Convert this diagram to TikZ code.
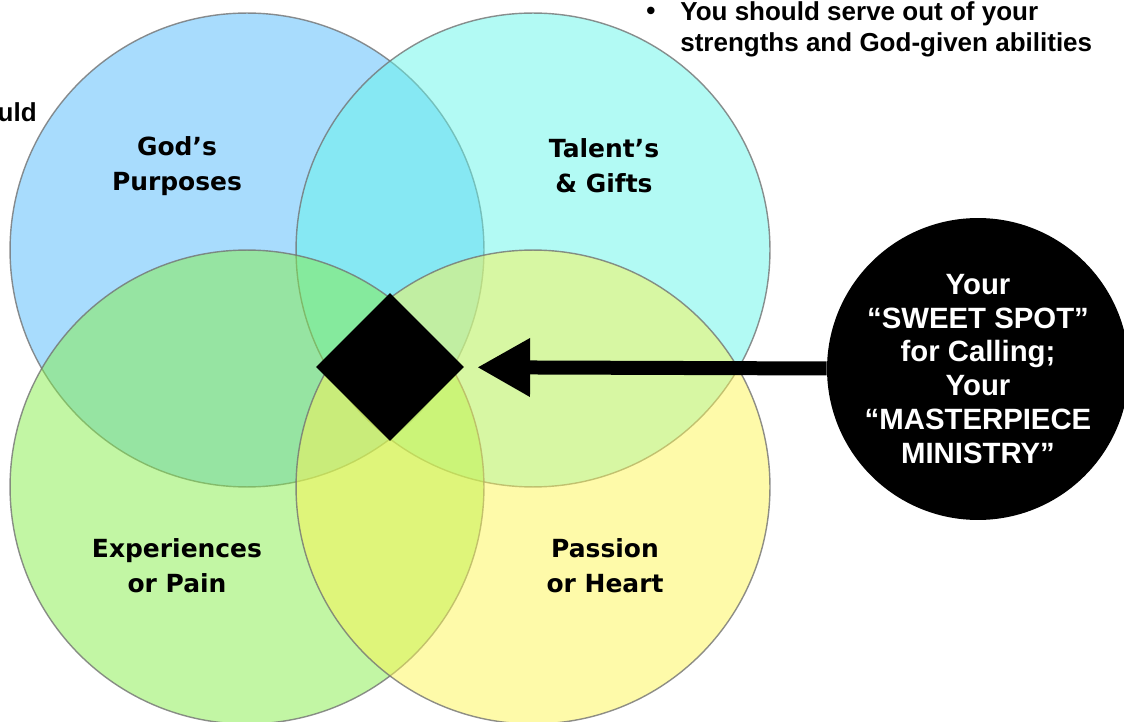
\documentclass[tikz,border=0pt]{standalone}
\usepackage{fontspec}
\setmainfont{Liberation Sans}
\newfontfamily\heavyfont{DejaVu Sans}
\usepackage{tikz}
\usetikzlibrary{shapes.geometric,arrows.meta,calc,positioning}

\definecolor{godblue}{RGB}{81,185,251}
\definecolor{talentcyan}{RGB}{101,245,233}
\definecolor{paingreen}{RGB}{133,237,73}
\definecolor{heartyellow}{RGB}{253,245,83}

\begin{document}
\begin{tikzpicture}[x=0.02cm, y=-0.02cm]
	\tikzstyle{every node} = [inner sep = 0pt]
	\tikzstyle{ring} = [circle, minimum size = 9.48cm, fill opacity = 0.5, draw = black!55, line width = 0.8pt, draw opacity = 0.8]
	\tikzstyle{label} = [font = \heavyfont\bfseries\fontsize{14.2}{19.8}\selectfont, align = center, text = black]
\useasboundingbox (0, 0) rectangle (1124, 722);

\node[ring, fill = godblue] (0) at (247, 250) {};
\node[ring, fill = talentcyan] (1) at (533, 250) {};
\node[ring, fill = paingreen] (2) at (247, 487) {};
\node[ring, fill = heartyellow] (3) at (533, 487) {};

\node[label] (4) at (177, 166) {God’s\\Purposes};
\node[label] (5) at (604, 166) {Talent’s\\\& Gifts};
\node[label] (6) at (177, 566) {Experiences\\or Pain};
\node[label] (7) at (605, 566) {Passion\\or Heart};

\node[diamond, fill = black, minimum width = 2.96cm, minimum height = 2.96cm, aspect = 1] (8) at (390, 367) {};
\node[circle, fill = black, minimum size = 6.04cm, text = white, align = center, font = \bfseries\fontsize{16.7}{19.3}\selectfont] (9) at (978, 369) {Your\\“SWEET SPOT”\\for Calling;\\Your\\“MASTERPIECE\\MINISTRY”};

	\path[draw, line width = 0.28cm, -{Triangle[length = 1.06cm, width = 1.1cm]}, shorten > = 0.26cm] (9) -- (8);

\node[anchor = east, font = \bfseries\fontsize{14.8}{17.6}\selectfont] (10) at (37, 112) {uld};
\node[font = \bfseries\fontsize{14.8}{17.6}\selectfont] (11) at (651, 13) {•};
\node[anchor = north west, align = left, font = \bfseries\fontsize{14.8}{17.6}\selectfont] (12) at (680, 1) {You should serve out of your\\strengths and God-given abilities};
\end{tikzpicture}
\end{document}
